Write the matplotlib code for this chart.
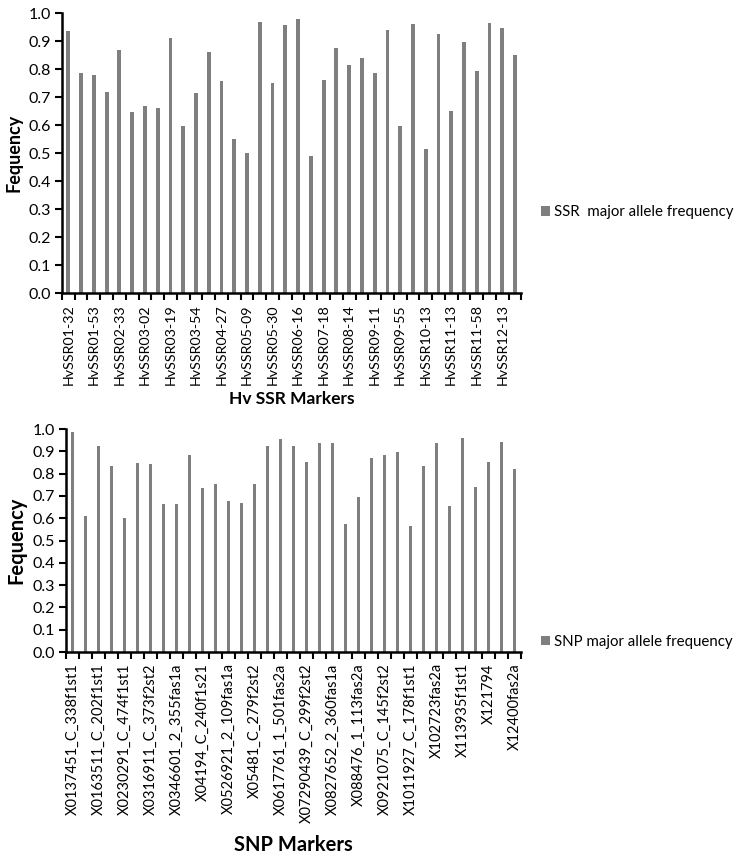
import numpy as np
import matplotlib
matplotlib.use("Agg")
import matplotlib.pyplot as plt
from matplotlib.patches import Patch

plt.rcParams['font.family'] = ['Lato', 'DejaVu Sans']

# SSR markers (every other marker is labelled on the axis)
ssr_labels = ["HvSSR01-32", "HvSSR01-53", "HvSSR02-33", "HvSSR03-02", "HvSSR03-19",
              "HvSSR03-54", "HvSSR04-27", "HvSSR05-09", "HvSSR05-30", "HvSSR06-16",
              "HvSSR07-18", "HvSSR08-14", "HvSSR09-11", "HvSSR09-55", "HvSSR10-13",
              "HvSSR11-13", "HvSSR11-58", "HvSSR12-13"]
ssr_freq = [0.937, 0.785, 0.780, 0.718, 0.867, 0.648, 0.667, 0.661, 0.911, 0.597,
            0.713, 0.860, 0.756, 0.551, 0.500, 0.969, 0.749, 0.958, 0.978, 0.490,
            0.760, 0.876, 0.816, 0.841, 0.787, 0.940, 0.597, 0.960, 0.516, 0.927,
            0.651, 0.896, 0.794, 0.963, 0.946, 0.849]

# SNP markers
snp_labels = ["X0137451_C_338f1st1", "X0163511_C_202f1st1", "X0230291_C_474f1st1",
              "X0316911_C_373f2st2", "X0346601_2_355fas1a", "X04194_C_240f1s21",
              "X0526921_2_109fas1a", "X05481_C_279f2st2", "X0617761_1_501fas2a",
              "X07290439_C_299f2st2", "X0827652_2_360fas1a", "X088476_1_113fas2a",
              "X0921075_C_145f2st2", "X1011927_C_178f1st1", "X102723fas2a",
              "X113935f1st1", "X121794", "X12400fas2a"]
snp_freq = [0.985, 0.609, 0.925, 0.835, 0.603, 0.848, 0.842, 0.662, 0.666, 0.883,
            0.734, 0.752, 0.677, 0.669, 0.753, 0.925, 0.956, 0.925, 0.850, 0.938,
            0.937, 0.575, 0.697, 0.870, 0.885, 0.899, 0.564, 0.835, 0.938, 0.653,
            0.961, 0.740, 0.851, 0.940, 0.820]

bar_color = '#7f7f7f'

fig = plt.figure(figsize=(7.52, 8.56), dpi=100)
ax1 = fig.add_axes([0.0824, 0.6577, 0.611, 0.327])
ax2 = fig.add_axes([0.0878, 0.2383, 0.605, 0.2605])


def draw(ax, freq, labels, xlabel, lab_size, ylab_size, xlab_size, xlab_pad):
    n = len(freq)
    x = np.arange(n)
    ax.bar(x, freq, width=0.3, color=bar_color)
    ax.set_xlim(-0.5, n - 0.5)
    ax.set_ylim(0, 1.0)
    ax.set_yticks(np.arange(0, 1.01, 0.1))
    ax.set_yticklabels(['%.1f' % v for v in np.arange(0, 1.01, 0.1)], fontsize=11.5)
    ax.set_xticks(x[::2])
    ax.set_xticklabels(labels, rotation=90, fontsize=lab_size)
    ax.set_xticks(np.arange(n + 1) - 0.5, minor=True)
    ax.tick_params(axis='x', which='major', length=0, pad=8)
    ax.tick_params(axis='x', which='minor', length=5, width=1.5, direction='out')
    ax.tick_params(axis='y', length=5, width=1.5, direction='out', pad=3)
    for s in ['top', 'right']:
        ax.spines[s].set_visible(False)
    for s in ['left', 'bottom']:
        ax.spines[s].set_linewidth(1.8)
    ax.set_ylabel('Fequency', fontsize=ylab_size, fontweight='bold', labelpad=4)
    ax.set_xlabel(xlabel, fontsize=xlab_size, fontweight='bold', labelpad=xlab_pad)


draw(ax1, ssr_freq, ssr_labels, 'Hv SSR Markers', 10.3, 13, 12.5, 4)
draw(ax2, snp_freq, snp_labels, 'SNP Markers', 10.5, 14.5, 14.5, 9)

h = [Patch(facecolor=bar_color, edgecolor='none')]
fig.legend(h, ['SSR  major allele frequency'], loc='center left',
           bbox_to_anchor=(0.719, 0.752), frameon=False, fontsize=10.8,
           handlelength=0.6, handleheight=0.6, handletextpad=0.3,
           borderpad=0, borderaxespad=0)
fig.legend(h, ['SNP major allele frequency'], loc='center left',
           bbox_to_anchor=(0.719, 0.25), frameon=False, fontsize=10.8,
           handlelength=0.6, handleheight=0.6, handletextpad=0.3,
           borderpad=0, borderaxespad=0)

fig.savefig('out.png', dpi=100)
